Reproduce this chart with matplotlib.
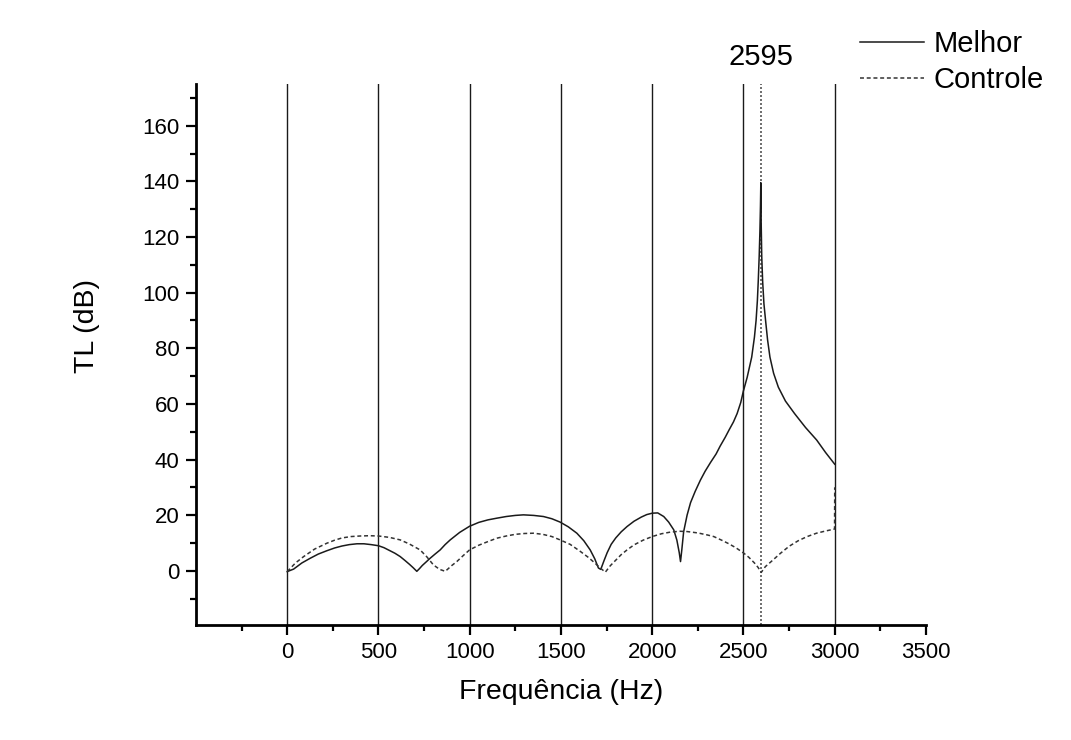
import matplotlib
matplotlib.use("Agg")
import matplotlib.pyplot as plt
from matplotlib.ticker import FixedLocator

plt.rcParams['font.family'] = ['Liberation Sans', 'DejaVu Sans']

# Transmission loss, best configuration
freq_melhor = [0, 35, 80, 126, 170, 217, 260, 300, 340, 382, 420, 460, 500, 530,
               560, 590, 619, 645, 670, 690, 710, 725, 740, 760, 783, 810, 838,
               865, 893, 945, 999, 1050, 1100, 1148, 1200, 1250, 1294, 1350, 1404,
               1450, 1495, 1540, 1587, 1625, 1660, 1685, 1705, 1718, 1735, 1753,
               1775, 1800, 1830, 1862, 1900, 1940, 1970, 2000, 2030, 2063, 2090,
               2118, 2135, 2148, 2155, 2162, 2172, 2191, 2210, 2235, 2264, 2290,
               2320, 2350, 2372, 2400, 2420, 2445, 2465, 2485, 2499, 2520, 2545,
               2560, 2569, 2576, 2581, 2586, 2590, 2593, 2595, 2597, 2600, 2605,
               2612, 2621, 2632, 2645, 2665, 2691, 2730, 2780, 2840, 2901, 2950,
               3000]
tl_melhor = [-0.3, 0.6, 2.8, 4.5, 6.0, 7.2, 8.2, 8.9, 9.4, 9.7, 9.7, 9.4, 9.0, 8.3,
             7.3, 6.3, 5.1, 3.7, 2.3, 1.1, -0.2, 0.8, 1.9, 3.1, 4.5, 6.0, 7.5,
             9.4, 11.1, 13.8, 16.0, 17.4, 18.3, 18.9, 19.5, 19.9, 20.1, 19.9, 19.5,
             18.7, 17.5, 15.8, 13.5, 10.8, 7.5, 4.3, 1.0, 0.5, 3.5, 6.5,
             9.5, 11.8, 14.0, 15.9, 17.8, 19.3, 20.2, 20.7, 20.8, 19.5, 17.5,
             14.7, 11.0, 6.5, 3.3, 7.5, 14.0, 20.0, 24.5, 28.5, 32.6, 35.8,
             39.0, 42.0, 44.8, 48.0, 50.5, 53.5, 56.5, 60.5, 64.5, 69.5, 76.8,
             84.0, 90.0, 97.0, 104.3, 113.0, 122.0, 131.0, 139.5, 125.0, 113.0, 104.0,
             96.0, 90.0, 83.0, 76.8, 71.0, 66.0, 61.0, 56.5, 51.5, 47.0, 42.5,
             38.3]

# Transmission loss, reference configuration
freq_controle = [0, 45, 90, 150, 217, 260, 300, 350, 400, 450, 500, 560, 619, 670,
                 728, 765, 801, 835, 866, 900, 929, 965, 999, 1050, 1100, 1148,
                 1200, 1250, 1300, 1349, 1400, 1450, 1495, 1550, 1605, 1650, 1687,
                 1715, 1743, 1770, 1800, 1830, 1862, 1900, 1950, 2000, 2050, 2100,
                 2150, 2191, 2250, 2300, 2337, 2380, 2420, 2460, 2502, 2530, 2560,
                 2580, 2597, 2620, 2650, 2703, 2750, 2800, 2849, 2900, 2950, 2999,
                 3000]
tl_controle = [-0.3, 2.8, 5.1, 7.8, 9.9, 11.0, 11.8, 12.3, 12.5, 12.6, 12.5, 12.0,
               11.1, 9.6, 7.5, 5.0, 2.1, 0.5, -0.2, 1.8, 3.3, 5.5, 7.5, 9.2, 10.5,
               11.7, 12.5, 13.1, 13.4, 13.5, 13.1, 12.3, 11.1, 9.5, 7.0, 4.8, 2.7,
               1.0, -0.5, 1.8, 3.8, 5.8, 7.5, 9.3, 11.0, 12.3, 13.3, 13.9,
               14.2, 14.1, 13.6, 12.9, 12.3, 11.0, 9.7, 8.2, 6.3, 4.8, 2.8,
               1.2, -0.6, 1.5, 3.2, 6.3, 8.8, 10.8, 12.3, 13.5, 14.3, 15.0,
               30.0]

grid_freqs = [0, 500, 1000, 1500, 2000, 2500, 3000]
marker_freq = 2595
x_ticks = [0, 500, 1000, 1500, 2000, 2500, 3000, 3500]
x_minor = [-250, 250, 750, 1250, 1750, 2250, 2750, 3250]
y_ticks = [0, 20, 40, 60, 80, 100, 120, 140, 160]
y_minor = [-10, 10, 30, 50, 70, 90, 110, 130, 150, 170]

fig = plt.figure(figsize=(10.71, 7.40), dpi=100)
ax = fig.add_axes([0.183, 0.1554, 0.6816, 0.7311])

for f in grid_freqs:
    ax.axvline(f, color='#1a1a1a', lw=1.0, zorder=1)
ax.axvline(marker_freq, color='#555555', lw=1.2, ls=(0, (1.2, 1.2)), zorder=1)

ax.plot(freq_melhor, tl_melhor, color='#1a1a1a', lw=1.1, label='Melhor', zorder=3)
ax.plot(freq_controle, tl_controle, color='#333333', lw=1.1, ls=(0, (2.6, 1.8)),
        label='Controle', zorder=3)

ax.set_xlim(-500, 3500)
ax.set_ylim(-19.5, 175)

ax.xaxis.set_major_locator(FixedLocator(x_ticks))
ax.xaxis.set_minor_locator(FixedLocator(x_minor))
ax.yaxis.set_major_locator(FixedLocator(y_ticks))
ax.yaxis.set_minor_locator(FixedLocator(y_minor))

for s in ['top', 'right']:
    ax.spines[s].set_visible(False)
for s in ['left', 'bottom']:
    ax.spines[s].set_linewidth(2.0)
    ax.spines[s].set_color('black')

ax.tick_params(which='major', direction='out', length=7, width=1.6, labelsize=16, pad=5)
ax.tick_params(which='minor', direction='out', length=4, width=1.6)

ax.set_xlabel('Frequência (Hz)', fontsize=20.5)
ax.set_ylabel('TL (dB)', fontsize=20.5)
ax.xaxis.set_label_coords(0.5, -0.100)
ax.yaxis.set_label_coords(-0.131, 0.553)

ax.text(marker_freq, 1.05, '2595', transform=ax.get_xaxis_transform(),
        ha='center', va='center', fontsize=21, clip_on=False)

fig.legend(loc='upper left', bbox_to_anchor=(0.803, 0.959), frameon=False,
           fontsize=21, handlelength=2.2, handletextpad=0.32, labelspacing=0.26,
           borderpad=0, borderaxespad=0)

fig.savefig('out.png', dpi=100, facecolor='white')
